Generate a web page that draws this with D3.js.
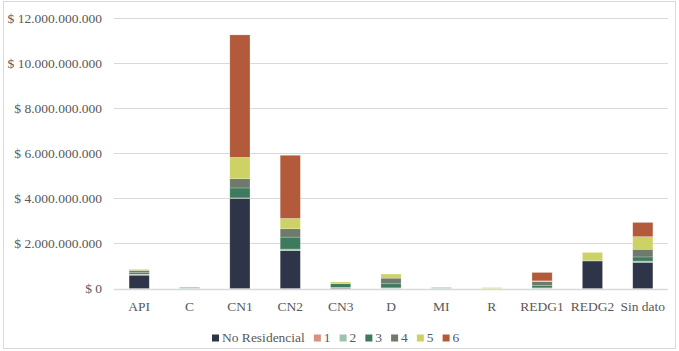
<!DOCTYPE html>
<html>
<head>
<meta charset="utf-8">
<script src="https://cdn.jsdelivr.net/npm/d3@7"></script>
<style>
  body { margin: 0; background: #fff; }
</style>
</head>
<body>
<div id="chart"></div>
<script>
const categories = ["API", "C", "CN1", "CN2", "CN3", "D", "MI", "R", "REDG1", "REDG2", "Sin dato"]
const seriesNames = ["No Residencial", "1", "2", "3", "4", "5", "6"]
const colors = ["#2e3549", "#d9907f", "#9cc3ae", "#3e7a5d", "#6f7a6c", "#cdd264", "#b35a3a"]

// values in billions of pesos, one array per series
const noResidencial = [0.59, 0,    4.00, 1.68, 0.02, 0,    0,    0,    0,    1.22, 1.16]
const s1 =            [0.03, 0,    0,    0,    0,    0,    0,    0,    0,    0,    0]
const s2 =            [0.02, 0.06, 0.02, 0.07, 0.03, 0.03, 0.05, 0,    0.03, 0,    0.06]
const s3 =            [0.08, 0,    0.44, 0.53, 0.16, 0.18, 0,    0,    0.10, 0.02, 0.18]
const s4 =            [0.08, 0,    0.41, 0.37, 0.02, 0.25, 0,    0,    0.18, 0,    0.34]
const s5 =            [0.05, 0,    0.95, 0.46, 0.06, 0.18, 0,    0.04, 0.03, 0.36, 0.56]
const s6 =            [0,    0,    5.43, 2.80, 0,    0,    0,    0,    0.37, 0,    0.63]
const yTicks = [0, 2, 4, 6, 8, 10, 12]

const W = 679, H = 351,
      margin = {top: 18, right: 11, bottom: 62.5, left: 114},
      font = "'Liberation Serif', 'DejaVu Serif', 'Times New Roman', serif"

const allSeries = [noResidencial, s1, s2, s3, s4, s5, s6]
const rows = categories.map((c, i) => {
  const r = {cat: c}
  seriesNames.forEach((s, j) => { r[s] = allSeries[j][i] })
  return r
})
const stacked = d3.stack().keys(seriesNames)(rows)

const x = d3.scaleBand()
  .domain(categories)
  .range([margin.left, W - margin.right])
  .paddingInner(0.6)
  .paddingOuter(0.3)
const y = d3.scaleLinear()
  .domain([0, 12])
  .range([H - margin.bottom, margin.top])

const svg = d3.select("#chart").append("svg")
  .attr("width", W)
  .attr("height", H)
  .attr("font-family", font)
  .attr("font-size", 13.5)

svg.append("rect")
  .attr("x", 3.5).attr("y", 1.5)
  .attr("width", 672).attr("height", 347)
  .attr("fill", "#fff")
  .attr("stroke", "#d9d9d9")

const fmt = v => v === 0 ? "$ 0" : "$ " + d3.format(",")(v * 1e9).replace(/,/g, ".")

// gridlines
svg.append("g")
  .selectAll("line")
  .data(yTicks)
  .join("line")
  .attr("x1", margin.left)
  .attr("x2", W - margin.right)
  .attr("y1", d => Math.round(y(d)) + 0.5)
  .attr("y2", d => Math.round(y(d)) + 0.5)
  .attr("stroke", "#d9d9d9")
  .attr("stroke-width", d => d === 0 ? 1.5 : 1)

svg.append("g")
  .selectAll("text")
  .data(yTicks)
  .join("text")
  .attr("x", 102)
  .attr("y", d => y(d) + 4.5)
  .attr("text-anchor", "end")
  .attr("fill", "#595959")
  .text(fmt)

// stacked bars
svg.append("g")
  .selectAll("g")
  .data(stacked)
  .join("g")
  .attr("fill", (d, i) => colors[i])
  .selectAll("rect")
  .data(d => d)
  .join("rect")
  .attr("x", d => x(d.data.cat))
  .attr("width", x.bandwidth())
  .attr("y", d => y(d[1]))
  .attr("height", d => Math.max(0, y(d[0]) - y(d[1])))
  .attr("stroke", "#fff")
  .attr("stroke-opacity", 0.35)
  .attr("stroke-width", 0.6)

// x labels
svg.append("g")
  .selectAll("text")
  .data(categories)
  .join("text")
  .attr("x", d => x(d) + x.bandwidth() / 2)
  .attr("y", 311)
  .attr("text-anchor", "middle")
  .attr("fill", "#595959")
  .text(d => d)

// legend
const legend = svg.append("g")
let lx = 212
seriesNames.forEach((s, i) => {
  legend.append("rect")
    .attr("x", lx).attr("y", 334.5)
    .attr("width", 7).attr("height", 7)
    .attr("fill", colors[i])
  const t = legend.append("text")
    .attr("x", lx + 10)
    .attr("y", 342)
    .attr("fill", "#595959")
    .text(s)
  lx += 10 + t.node().getComputedTextLength() + 9
})
</script>
</body>
</html>
